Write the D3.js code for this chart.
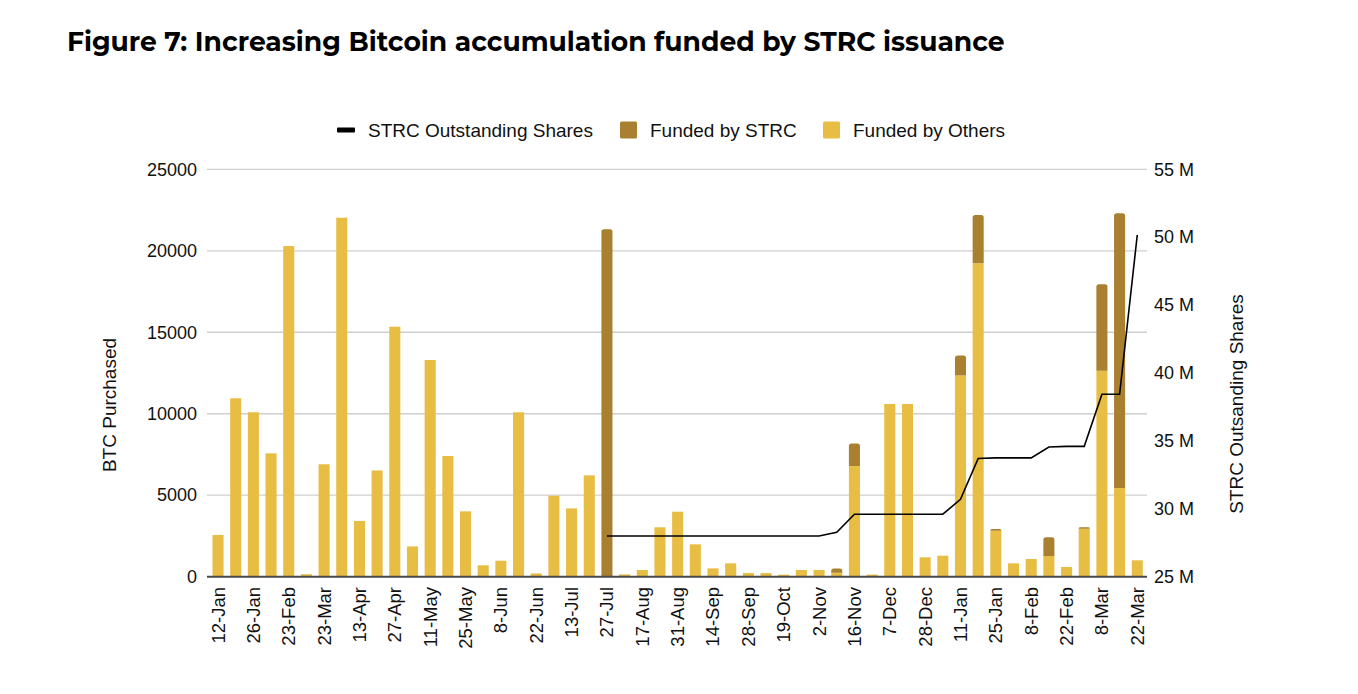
<!DOCTYPE html>
<html>
<head>
<meta charset="utf-8">
<script src="https://cdn.jsdelivr.net/npm/d3@7"></script>
<style>
  html, body { margin: 0; padding: 0; background: #ffffff; }
  svg { display: block; }
  text { font-family: "Liberation Sans", Arial, sans-serif; fill: #111; }
</style>
</head>
<body>
<svg width="1358" height="694"></svg>
<script>
// I. Data

// weeks (only every other one gets a label)
let dates = [
    "12-Jan", "20-Jan", "26-Jan", "9-Feb", "23-Feb", "16-Mar", "23-Mar", "30-Mar",
    "13-Apr", "20-Apr", "27-Apr", "4-May", "11-May", "18-May", "25-May", "1-Jun",
    "8-Jun", "15-Jun", "22-Jun", "29-Jun", "13-Jul", "20-Jul", "27-Jul", "10-Aug",
    "17-Aug", "24-Aug", "31-Aug", "7-Sep", "14-Sep", "21-Sep", "28-Sep", "12-Oct",
    "19-Oct", "26-Oct", "2-Nov", "9-Nov", "16-Nov", "30-Nov", "7-Dec", "14-Dec",
    "28-Dec", "4-Jan", "11-Jan", "18-Jan", "25-Jan", "1-Feb", "8-Feb", "15-Feb",
    "22-Feb", "1-Mar", "8-Mar", "15-Mar", "22-Mar"
];

// BTC bought with other funding
let fundedOthers = [
    2560, 10950, 10090, 7570, 20290, 150, 6900, 22030,
    3420, 6520, 15340, 1860, 13300, 7410, 4010, 700,
    980, 10090, 200, 4970, 4190, 6220, 0, 140,
    410, 3030, 3990, 1985, 510, 820, 225, 225,
    125, 410, 410, 245, 6790, 130, 10600, 10600,
    1190, 1290, 12340, 19230, 2820, 820, 1085, 1270,
    595, 2945, 12640, 5440, 1005
];

// BTC bought with STRC money
let fundedStrc = [
    0, 0, 0, 0, 0, 0, 0, 0,
    0, 0, 0, 0, 0, 0, 0, 0,
    0, 0, 0, 0, 0, 0, 21320, 0,
    0, 0, 0, 0, 0, 0, 0, 0,
    0, 0, 0, 265, 1390, 0, 0, 0,
    0, 0, 1240, 2970, 105, 0, 0, 1145,
    0, 85, 5300, 16860, 0
];

// STRC outstanding shares, millions (none before the IPO)
let strcShares = [
    null, null, null, null, null, null, null, null,
    null, null, null, null, null, null, null, null,
    null, null, null, null, null, null, 28.0, 28.0,
    28.0, 28.0, 28.0, 28.0, 28.0, 28.0, 28.0, 28.0,
    28.0, 28.0, 28.0, 28.27, 29.6, 29.6, 29.6, 29.6,
    29.6, 29.6, 30.7, 33.7, 33.75, 33.75, 33.75, 34.55,
    34.6, 34.6, 38.43, 38.43, 50.16
];

let btcTicks = [0, 5000, 10000, 15000, 20000, 25000];
let sharesTicks = [25, 30, 35, 40, 45, 50, 55];

let colOthers = "#e8bd44";
let colStrc = "#a98030";

// II. Drawing

let svg = d3.select("svg");

let gauche = 207, droite = 1147, haut = 169.3, bas = 576.7;

let x = d3.scaleBand()
    .domain(dates)
    .range([212.5, 1142.8])
    .paddingInner(0.374)
    .paddingOuter(0);

let y = d3.scaleLinear().domain([0, 25000]).range([bas, haut]);
let y2 = d3.scaleLinear().domain([25, 55]).range([bas, haut]);

// Title, fitted to the width of the original
let titre = svg.append("text")
    .attr("x", 67)
    .attr("y", 51)
    .style("font-family", "Montserrat, Inter, 'Open Sans', sans-serif")
    .style("font-weight", 700)
    .style("font-size", "24px")
    .style("fill", "#000")
    .text("Figure 7: Increasing Bitcoin accumulation funded by STRC issuance");
let largeur = titre.node().getComputedTextLength();
titre.style("font-size", (24 * 938 / largeur) + "px");

// Gridlines
svg.append("g")
    .selectAll("line")
    .data(btcTicks.slice(1))
    .enter()
    .append("line")
    .attr("x1", gauche)
    .attr("x2", droite)
    .attr("y1", d => y(d))
    .attr("y2", d => y(d))
    .attr("stroke", "#cfcfcf")
    .attr("stroke-width", 1.3);

// Left axis (numbers only)
let axeGauche = svg.append("g")
    .attr("transform", "translate(" + gauche + ",0)")
    .call(d3.axisLeft(y).tickValues(btcTicks).tickSize(0).tickPadding(10).tickFormat(d3.format("d")));
axeGauche.select(".domain").remove();
axeGauche.selectAll("text")
    .style("font-family", "'Liberation Sans', Arial, sans-serif")
    .style("font-size", "18px")
    .style("fill", "#111");

// Right axis
let axeDroite = svg.append("g")
    .attr("transform", "translate(" + droite + ",0)")
    .call(d3.axisRight(y2).tickValues(sharesTicks).tickSize(0).tickPadding(7).tickFormat(d => d + " M"));
axeDroite.select(".domain").remove();
axeDroite.selectAll("text")
    .style("font-family", "'Liberation Sans', Arial, sans-serif")
    .style("font-size", "18px")
    .style("fill", "#111");

// Stacked bars
let barres = dates.map((d, i) => ({ date: d, others: fundedOthers[i], strc: fundedStrc[i] }));

// rounded top corners for a rect
function hautArrondi(x0, y0, w, h, r) {
    r = Math.min(r, h, w / 2);
    return "M" + x0 + "," + (y0 + h) +
        "V" + (y0 + r) +
        "Q" + x0 + "," + y0 + " " + (x0 + r) + "," + y0 +
        "H" + (x0 + w - r) +
        "Q" + (x0 + w) + "," + y0 + " " + (x0 + w) + "," + (y0 + r) +
        "V" + (y0 + h) + "Z";
}

svg.append("g")
    .selectAll("rect")
    .data(barres.filter(d => d.others > 0))
    .enter()
    .append("rect")
    .attr("x", d => x(d.date))
    .attr("width", x.bandwidth())
    .attr("y", d => y(d.others))
    .attr("height", d => bas - y(d.others))
    .attr("fill", colOthers);

svg.append("g")
    .selectAll("path")
    .data(barres.filter(d => d.strc > 0))
    .enter()
    .append("path")
    .attr("d", d => hautArrondi(x(d.date), y(d.others + d.strc), x.bandwidth(), y(d.others) - y(d.others + d.strc), 2.5))
    .attr("fill", colStrc);

// Baseline
svg.append("line")
    .attr("x1", gauche)
    .attr("x2", droite)
    .attr("y1", bas)
    .attr("y2", bas)
    .attr("stroke", "#4a4a4a")
    .attr("stroke-width", 2);

// Shares line
let points = dates.map((d, i) => ({ date: d, v: strcShares[i] }));
let ligne = d3.line()
    .defined(d => d.v != null)
    .x(d => x(d.date) + x.bandwidth() / 2)
    .y(d => y2(d.v));

svg.append("path")
    .datum(points)
    .attr("d", ligne)
    .attr("fill", "none")
    .attr("stroke", "#000")
    .attr("stroke-width", 1.6);

// X labels, every other week
svg.append("g")
    .selectAll("text")
    .data(dates.filter((d, i) => i % 2 == 0))
    .enter()
    .append("text")
    .attr("transform", d => "translate(" + (x(d) + x.bandwidth() / 2) + ",587) rotate(-90)")
    .attr("text-anchor", "end")
    .attr("dy", "0.35em")
    .style("font-size", "18.5px")
    .text(d => d);

// Axis titles
svg.append("text")
    .attr("transform", "translate(116,405) rotate(-90)")
    .attr("text-anchor", "middle")
    .style("font-size", "19px")
    .text("BTC Purchased");

svg.append("text")
    .attr("transform", "translate(1243,404) rotate(-90)")
    .attr("text-anchor", "middle")
    .style("font-size", "19px")
    .text("STRC Outsanding Shares");

// Legend
let legende = svg.append("g");

legende.append("rect")
    .attr("x", 337).attr("y", 127.5)
    .attr("width", 18).attr("height", 5).attr("rx", 1)
    .attr("fill", "#000");
legende.append("text")
    .attr("x", 368).attr("y", 137)
    .style("font-size", "19px")
    .text("STRC Outstanding Shares");

legende.append("rect")
    .attr("x", 620).attr("y", 121.5)
    .attr("width", 17).attr("height", 17).attr("rx", 1.5)
    .attr("fill", colStrc);
legende.append("text")
    .attr("x", 650).attr("y", 137)
    .style("font-size", "19px")
    .text("Funded by STRC");

legende.append("rect")
    .attr("x", 823).attr("y", 121.5)
    .attr("width", 17).attr("height", 17).attr("rx", 1.5)
    .attr("fill", colOthers);
legende.append("text")
    .attr("x", 853).attr("y", 137)
    .style("font-size", "19px")
    .text("Funded by Others");
</script>
</body>
</html>
